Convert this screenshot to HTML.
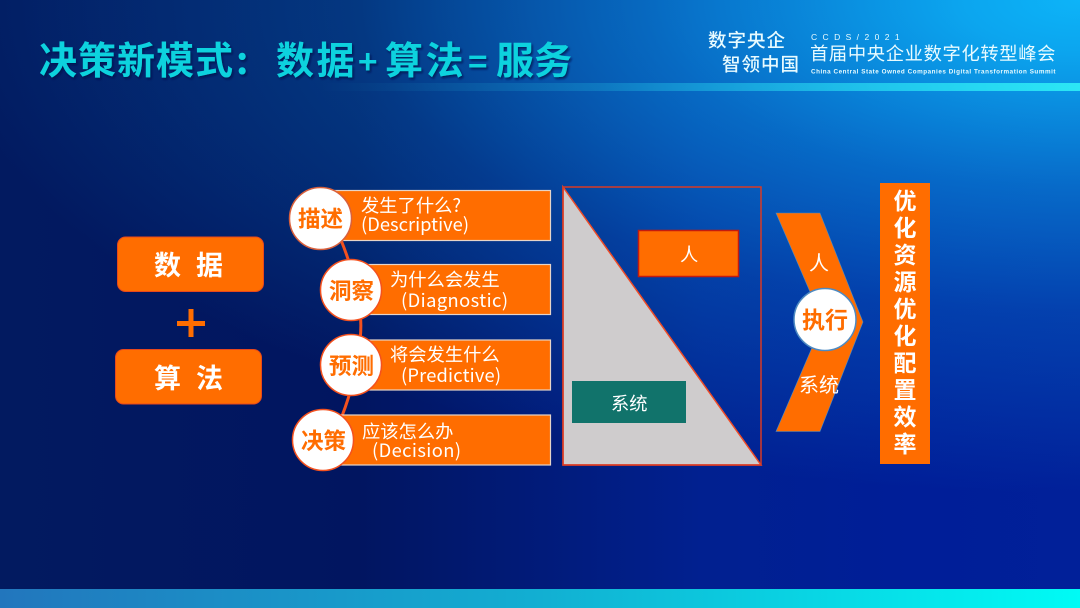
<!DOCTYPE html>
<html lang="zh">
<head>
<meta charset="utf-8">
<style>
html,body{margin:0;padding:0;width:1080px;height:608px;overflow:hidden;background:#011a60}
svg{display:block}
text{font-family:"Liberation Sans","Noto Sans CJK SC",sans-serif}
.cjk{font-family:"Noto Sans CJK SC","Liberation Sans",sans-serif}
.w{fill:#fff;font-size:18.3px}
.b{font-weight:700}
.o{fill:#ff6d00}
</style>
</head>
<body>
<svg width="1080" height="608" viewBox="0 0 1080 608" xmlns="http://www.w3.org/2000/svg">
<defs>
<linearGradient id="h" x1="0" y1="0" x2="1" y2="0">
<stop offset="0" stop-color="#021a60"/><stop offset=".33" stop-color="#011560"/><stop offset=".65" stop-color="#012090"/><stop offset=".85" stop-color="#001e98"/><stop offset="1" stop-color="#012099"/>
</linearGradient>
<radialGradient id="top" gradientUnits="userSpaceOnUse" cx="0" cy="0" r="1" gradientTransform="translate(1080 0) scale(1200 520)">
<stop offset="0" stop-color="#0db4f8"/>
<stop offset=".1" stop-color="#0db4f8" stop-opacity=".9"/>
<stop offset=".36" stop-color="#0db4f8" stop-opacity=".5"/>
<stop offset=".6" stop-color="#0db4f8" stop-opacity=".22"/>
<stop offset=".95" stop-color="#0db4f8" stop-opacity="0"/>
</radialGradient>
<linearGradient id="band" x1="0" y1="0" x2="1" y2="0">
<stop offset="0" stop-color="#2276bd"/><stop offset=".5" stop-color="#12afd2"/><stop offset="1" stop-color="#00fbf5"/>
</linearGradient>
<linearGradient id="tb" x1="0" y1="0" x2="1" y2="0">
<stop offset="0" stop-color="#2ce6f5" stop-opacity="0"/><stop offset=".37" stop-color="#2ce6f5" stop-opacity=".2"/><stop offset=".65" stop-color="#2ce6f5" stop-opacity=".55"/><stop offset="1" stop-color="#2ce6f5"/>
</linearGradient>
<filter id="s" x="-5%" y="-20%" width="110%" height="140%"><feDropShadow dx="1.5" dy="2" stdDeviation="1" flood-color="#02184a" flood-opacity=".75"/></filter>
</defs>

<rect width="1080" height="608" fill="url(#h)"/>
<rect width="1080" height="608" fill="url(#top)"/>
<rect x="320" y="83" width="760" height="8" fill="url(#tb)"/>
<rect x="0" y="589" width="1080" height="19" fill="url(#band)"/>

<!-- title -->
<g class="cjk b" font-size="38" fill="#0fd2de" filter="url(#s)">
<text class="cjk" x="39" y="74" letter-spacing="1">决策新模式</text>
<text class="cjk" x="236" y="74">:</text>
<text class="cjk" x="276" y="74" letter-spacing="2.500">数据</text>
<text class="cjk" x="358" y="74" font-size="33">+</text>
<text class="cjk" x="385" y="74" letter-spacing="2.500">算法</text>
<text class="cjk" x="468" y="74" font-size="33">=</text>
<text class="cjk" x="496" y="74" letter-spacing="0">服务</text>
</g>

<!-- header logo -->
<g fill="#e8fbff">
<text class="cjk" font-weight="500" x="708" y="47" font-size="18.500" letter-spacing="1">数字央企</text>
<text class="cjk" font-weight="500" x="722" y="71" font-size="18.500" letter-spacing="1">智领中国</text>
<text x="811" y="40" font-size="8.500" letter-spacing="5.400">CCDS/2021</text>
<text class="cjk" x="810" y="60" font-size="18.300" letter-spacing=".65">首届中央企业数字化转型峰会</text>
<text x="811" y="73.500" font-size="6.300" font-weight="700" letter-spacing=".54">China Central State Owned Companies Digital Transformation Summit</text>
</g>

<!-- left -->
<rect x="117.500" y="237" width="146" height="54.500" rx="8" class="o" stroke="#e8481c"/>
<text class="cjk b" x="154" y="275" font-size="27" fill="#fff" letter-spacing="15">数据</text>
<rect x="177" y="321" width="28" height="5" class="o"/>
<rect x="188.500" y="309" width="5" height="28" class="o"/>
<rect x="115.500" y="349.500" width="146" height="54.500" rx="8" class="o" stroke="#e8481c"/>
<text class="cjk b" x="154" y="388" font-size="27" fill="#fff" letter-spacing="15">算法</text>

<!-- connector curve -->
<path d="M341 240 Q365 300 360 340 Q356 380 342 416" fill="none" stroke="#f4511e" stroke-width="3"/>

<!-- rows -->
<g class="o" stroke="#e6d4c8" stroke-width="1.200">
<rect x="330" y="190.500" width="220.500" height="50"/>
<rect x="360" y="264.500" width="190.500" height="50"/>
<rect x="360" y="340" width="190.500" height="50"/>
<rect x="330" y="415" width="220.500" height="50"/>
</g>

<g>
<text class="cjk w" x="361" y="212">发生了什么?</text>
<text class="cjk w" x="361" y="231" textLength="108">(Descriptive)</text>
<text class="cjk w" x="390" y="286">为什么会发生</text>
<text class="cjk w" x="401" y="307" textLength="107">(Diagnostic)</text>
<text class="cjk w" x="390" y="361">将会发生什么</text>
<text class="cjk w" x="401" y="382" textLength="100">(Predictive)</text>
<text class="cjk w" x="362" y="438">应该怎么办</text>
<text class="cjk w" x="372" y="457" textLength="89">(Decision)</text>
</g>

<!-- circles -->
<g fill="#fff" stroke="#f4511e" stroke-width="1.500">
<circle cx="320.500" cy="218.500" r="31" stroke="#d9603c"/>
<circle cx="351" cy="290" r="30.500"/>
<circle cx="351" cy="365" r="30.500"/>
<circle cx="323" cy="440" r="30.500"/>
</g>
<g class="cjk b" font-size="22.500" fill="#ff6d00">
<text class="cjk" x="298" y="227">描述</text>
<text class="cjk" x="329" y="299">洞察</text>
<text class="cjk" x="329" y="374">预测</text>
<text class="cjk" x="301" y="449">决策</text>
</g>

<!-- triangle box -->
<polygon points="563,187 761,465 563,465" fill="#cfcccd" stroke="#ef4a26" stroke-width="1.500"/>
<rect x="563" y="187" width="198" height="278" fill="none" stroke="#d93a24" stroke-width="1.500"/>
<rect x="638.500" y="230.500" width="100" height="46" class="o" stroke="#c41a0e" stroke-width="1.500"/>
<text class="cjk w" x="680" y="261">人</text>
<rect x="572" y="381" width="114" height="42" fill="#11736b"/>
<text class="cjk w" x="611" y="410" fill="#f2fff9">系统</text>

<!-- chevron -->
<polygon points="776,213 820,213 863,322 820,431.500 776,431.500 823,322" class="o" stroke="#4d8ac2" stroke-width=".6"/>
<text class="cjk" x="809" y="270" font-size="20" fill="#fff">人</text>
<text class="cjk" x="799" y="392" font-size="20" fill="#fff">系统</text>
<circle cx="825" cy="319.500" r="31" fill="#fff" stroke="#4d8ac2" stroke-width="1.500"/>
<text class="cjk b" x="802" y="328" font-size="23" fill="#ff6d00">执行</text>

<!-- right column -->
<rect x="880" y="183" width="50" height="281" class="o"/>
<g class="cjk b" font-size="23" fill="#fff" text-anchor="middle">
<text class="cjk" x="905" y="209">优</text>
<text class="cjk" x="905" y="236">化</text>
<text class="cjk" x="905" y="263">资</text>
<text class="cjk" x="905" y="290">源</text>
<text class="cjk" x="905" y="317">优</text>
<text class="cjk" x="905" y="344">化</text>
<text class="cjk" x="905" y="371">配</text>
<text class="cjk" x="905" y="398">置</text>
<text class="cjk" x="905" y="425">效</text>
<text class="cjk" x="905" y="452">率</text>
</g>
</svg>
</body>
</html>
